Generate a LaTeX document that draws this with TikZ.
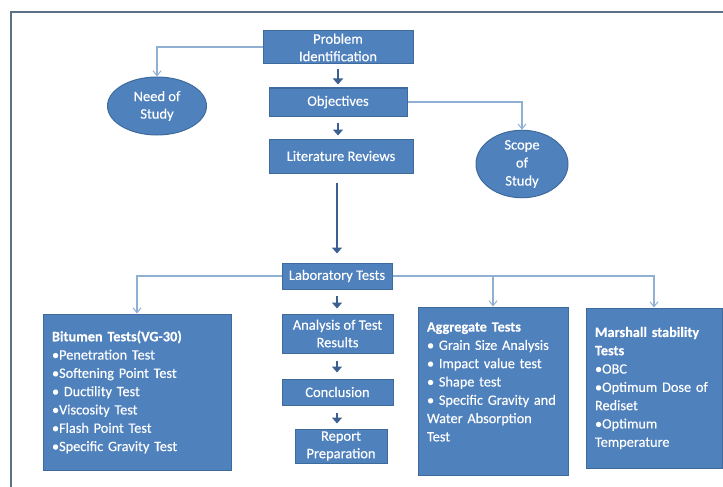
\documentclass[tikz,border=0pt]{standalone}
\usepackage{fontspec}
\setmainfont{Carlito}[FakeBold=0.25]
\usetikzlibrary{arrows.meta,shapes.geometric}
\definecolor{boxfill}{HTML}{4F81BD}
\definecolor{boxline}{HTML}{3E6A9C}
\definecolor{linkcol}{HTML}{8FAFD3}
\definecolor{thickcol}{HTML}{3B5F8F}
\definecolor{framecol}{HTML}{5D7088}
\begin{document}
\begin{tikzpicture}[x=1pt,y=-1pt,
  every node/.style={font=\fontsize{14.5}{17.5}\selectfont, text=white},
  flowbox/.style={draw=boxline, line width=1pt, fill=boxfill, align=center, inner sep=1pt},
  oval/.style={ellipse, draw=boxline, line width=1pt, fill=boxfill, align=center, inner sep=0pt},
  listbox/.style={draw=boxline, line width=1pt, fill=boxfill, align=left, inner xsep=9pt, inner ysep=4pt, font=\fontsize{14.3}{18.3}\selectfont},
  link/.style={draw=linkcol, line width=1.2pt, -{Straight Barb[length=5pt,width=8pt,line width=1pt]}},
  flow/.style={draw=thickcol, line width=2.8pt, -{Triangle[length=6pt,width=10pt]}, shorten <=1pt}
]
\useasboundingbox (0,0) rectangle (723,487);
\draw[framecol, line width=2.2pt] (11,490) -- (11,12) -- (726,12);

\node[flowbox, minimum width=150pt, minimum height=33pt] (prob) at (338,47.5) {Problem\\Identification};
\node[flowbox, minimum width=138pt, minimum height=28pt] (obj) at (338,102) {Objectives};
\node[flowbox, minimum width=144pt, minimum height=34pt] (lit) at (341,156) {Literature Reviews};
\node[oval, minimum width=99pt, minimum height=58pt] (need) at (157,106) {Need of\\Study};
\node[oval, minimum width=92pt, minimum height=59pt, font=\fontsize{14.5}{18}\selectfont] (scope) at (522,164) {Scope\\of\\Study};
\node[flowbox, minimum width=110pt, minimum height=26pt] (lab) at (337,276) {Laboratory Tests};
\node[flowbox, minimum width=111pt, minimum height=39pt] (ana) at (337.5,333.5) {Analysis of Test\\Results};
\node[flowbox, minimum width=111pt, minimum height=26pt] (conc) at (337.5,392) {Conclusion};
\node[flowbox, minimum width=92pt, minimum height=34pt] (rep) at (341,446) {Report\\Preparation};

\node[listbox, text width=170pt, minimum height=156pt] (bit) at (137,392) {\textbf{Bitumen Tests(VG-30)}\\•Penetration Test\\•Softening Point Test\\• Ductility Test\\•Viscosity Test\\•Flash Point Test\\•Specific Gravity Test};
\node[listbox, text width=132pt, minimum height=168pt] (agg) at (493,391) {\textbf{Aggregate Tests}\\• Grain Size Analysis\\• Impact value test\\• Shape test\\• Specific Gravity and\\Water Absorption\\Test\\\mbox{}};
\node[listbox, text width=118pt, minimum height=160pt] (mar) at (654,388) {\textbf{Marshall stability}\\\textbf{Tests}\\•OBC\\•Optimum Dose of\\Rediset\\•Optimum\\Temperature};

% light connectors
\draw[link] (prob.west |- 0,47) -| (need.north);
\draw[link] (obj.east |- 0,102) -| (scope.north);
\draw[link] (lab.west) -| (bit.north);
\draw[link] (lab.east) -| (agg.north);
\draw[link] (lab.east) -| (mar.north);

% thick flow arrows
\draw[flow] ([yshift=-4pt]prob.south -| 338,0) -- ([yshift=3pt]obj.north -| 338,0);
\draw[flow] ([yshift=-5pt]obj.south -| 338,0) -- ([yshift=3pt]lit.north -| 338,0);
\draw[flow] ([yshift=-8pt]lit.south -| 337,0) -- ([yshift=9pt]lab.north -| 337,0);
\draw[flow] ([yshift=-5pt]lab.south -| 337,0) -- ([yshift=5pt]ana.north -| 337,0);
\draw[flow] ([yshift=-6pt]ana.south -| 337,0) -- ([yshift=6pt]conc.north -| 337,0);
\draw[flow] ([yshift=-6pt]conc.south -| 337,0) -- ([yshift=5pt]rep.north -| 337,0);
\end{tikzpicture}
\end{document}
